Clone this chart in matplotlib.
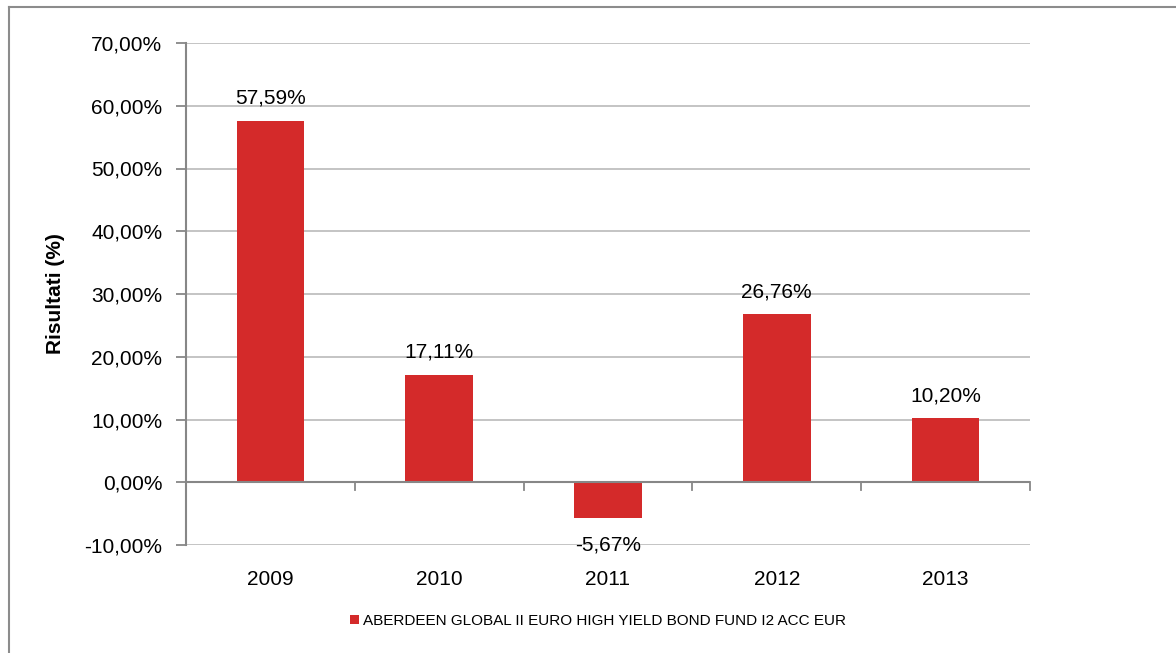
import matplotlib.pyplot as plt
from matplotlib.lines import Line2D
import numpy as np

years = ["2009", "2010", "2011", "2012", "2013"]
results = [57.59, 17.11, -5.67, 26.76, 10.20]
yticks = [-10, 0, 10, 20, 30, 40, 50, 60, 70]
series_name = "ABERDEEN GLOBAL II EURO HIGH YIELD BOND FUND I2 ACC EUR"

RED = "#d42a2a"
GRID = "#bfbfbf"
AXIS = "#878787"

plt.rcParams['font.family'] = ['Liberation Sans', 'DejaVu Sans']

fig = plt.figure(figsize=(11.76, 6.53), dpi=100)
ax = fig.add_axes([186/1176, 1-545/653, (1030-186)/1176, (545-43)/653])

x = np.arange(len(years))
bars = ax.bar(x, results, width=0.4, color=RED, zorder=3, label=series_name)

ax.set_xlim(-0.5, len(years)-0.5)
ax.set_ylim(-10, 70)
ax.set_yticks(yticks)
ax.set_yticklabels(["{:.2f}%".format(v).replace(".", ",") for v in yticks], fontsize=15)
ax.yaxis.grid(True, color=GRID, linewidth=1.3, zorder=0)
ax.tick_params(axis='y', length=7, color=AXIS, width=1.3, pad=10)

ax.set_xticks([])
for i, y in enumerate(years):
    ax.text(i, -15.5, y, ha='center', va='center', fontsize=15)

# zero line acting as category axis, with separators between categories
ax.axhline(0, color=AXIS, linewidth=1.5, zorder=4)
for b in np.arange(0.5, len(years), 1.0):
    ax.plot([b, b], [0, -1.3], color=AXIS, linewidth=1.3, zorder=4, clip_on=False)

for s in ["top", "right", "bottom"]:
    ax.spines[s].set_visible(False)
ax.spines["left"].set_color(AXIS)
ax.spines["left"].set_linewidth(1.5)

for i, v in enumerate(results):
    off = 3.6 if v >= 0 else -4.3
    ax.text(i, v + off, "{:.2f}%".format(v).replace(".", ","), ha='center', va='center', fontsize=15)

ax.set_ylabel("Risultati (%)", fontsize=15, fontweight='bold', labelpad=14)

ax.legend(loc='center', bbox_to_anchor=(598/1176, 1-621/653), bbox_transform=fig.transFigure,
          frameon=False, fontsize=11, handlelength=0.6, handleheight=0.6, handletextpad=0.3)

# partial chart-frame border (left and top)
fig.add_artist(Line2D([8.5/1176, 8.5/1176], [0, 1-7/653], color="#8c8c8c", linewidth=1.5))
fig.add_artist(Line2D([8.5/1176, 1], [1-7/653, 1-7/653], color="#8c8c8c", linewidth=1.5))

fig.savefig("out.png", dpi=100)
